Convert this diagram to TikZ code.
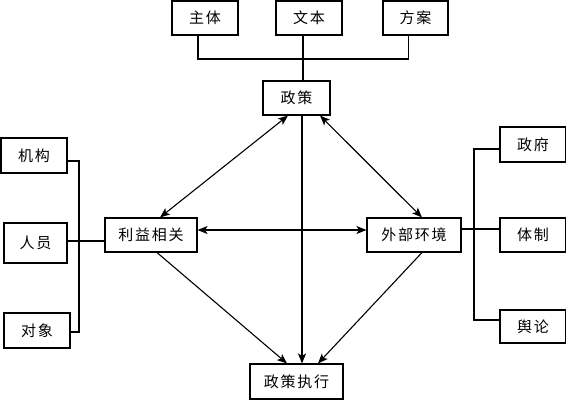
\documentclass[tikz,border=0pt]{standalone}
\usepackage{fontspec}
\setmainfont{Noto Sans CJK SC}[LetterSpace=12]
\usetikzlibrary{arrows.meta}
\begin{document}
\begin{tikzpicture}[x=1pt,y=-1pt,
  box/.style={draw, line width=1.1pt, inner sep=0pt, minimum height=34pt, font=\fontsize{15}{15}\selectfont},
  conn/.style={line width=1.1pt},
  tip/.tip={Stealth[length=10pt,width=8pt,inset=2.5pt]},
  arr/.style={conn, -tip},
  barr/.style={conn, tip-tip}]
\useasboundingbox (0,0) rectangle (566,400);

% top
\node[box, minimum width=66pt] (zhuti) at (205,18) {主体};
\node[box, minimum width=66pt] (wenben) at (309,18) {文本};
\node[box, minimum width=65pt] (fangan) at (415.5,18) {方案};
\node[box, minimum width=67pt] (zc) at (296.5,98) {政策};
\coordinate (jt) at (303,59);
\draw[conn] ([xshift=-7pt]zhuti.south) |- (jt);
\draw[conn] ([xshift=-7pt]fangan.south) |- (jt);
\draw[conn] ([xshift=-6pt]wenben.south) -- (jt) -- (jt |- zc.north);

% middle
\node[box, minimum width=92pt] (lyxg) at (151,235) {利益相关};
\node[box, minimum width=94pt] (wbhj) at (414,235) {外部环境};
\node[box, minimum width=93pt, minimum height=35pt] (zczx) at (296.5,381.5) {政策执行};

% left
\node[box, minimum width=66pt, minimum height=35pt] (jg) at (34,155.5) {机构};
\node[box, minimum width=63pt, minimum height=40pt] (ry) at (35.5,243) {人员};
\node[box, minimum width=66pt, minimum height=35pt] (dx) at (37,330.5) {对象};
\coordinate (lv) at (79,241);
\draw[conn] ([yshift=-5.5pt]jg.east) -| (lv);
\draw[conn] ([yshift=-1.5pt]dx.east) -| (lv);
\draw[conn] ([yshift=2pt]ry.east) -- ([yshift=-6pt]lyxg.west);

% right
\node[box, minimum width=66pt, minimum height=35pt] (zf) at (533,144.5) {政府};
\node[box, minimum width=66pt] (tz) at (533,235) {体制};
\node[box, minimum width=66pt, minimum height=33pt] (yl) at (533,326.5) {舆论};
\coordinate (rv) at (474,229);
\draw[conn] ([yshift=-4.5pt]zf.west) -| (rv);
\draw[conn] ([yshift=6.5pt]yl.west) -| (rv);
\draw[conn] ([yshift=6pt]wbhj.east) -- ([yshift=6pt]tz.west);

% arrows
\draw[barr] ([xshift=-8.5pt]zc.south) -- ([xshift=9pt]lyxg.north);
\draw[barr] ([xshift=23.5pt]zc.south) -- ([xshift=8pt]wbhj.north);
\draw[barr] ([yshift=5pt]lyxg.east) -- ([yshift=5pt]wbhj.west);
\draw[arr] ([xshift=5.5pt]zc.south) -- ([xshift=5.5pt]zczx.north);
\draw[arr] ([xshift=6pt]lyxg.south) -- ([xshift=-9.5pt]zczx.north);
\draw[arr] ([xshift=8pt]wbhj.south) -- ([xshift=21.5pt]zczx.north);
\end{tikzpicture}
\end{document}
